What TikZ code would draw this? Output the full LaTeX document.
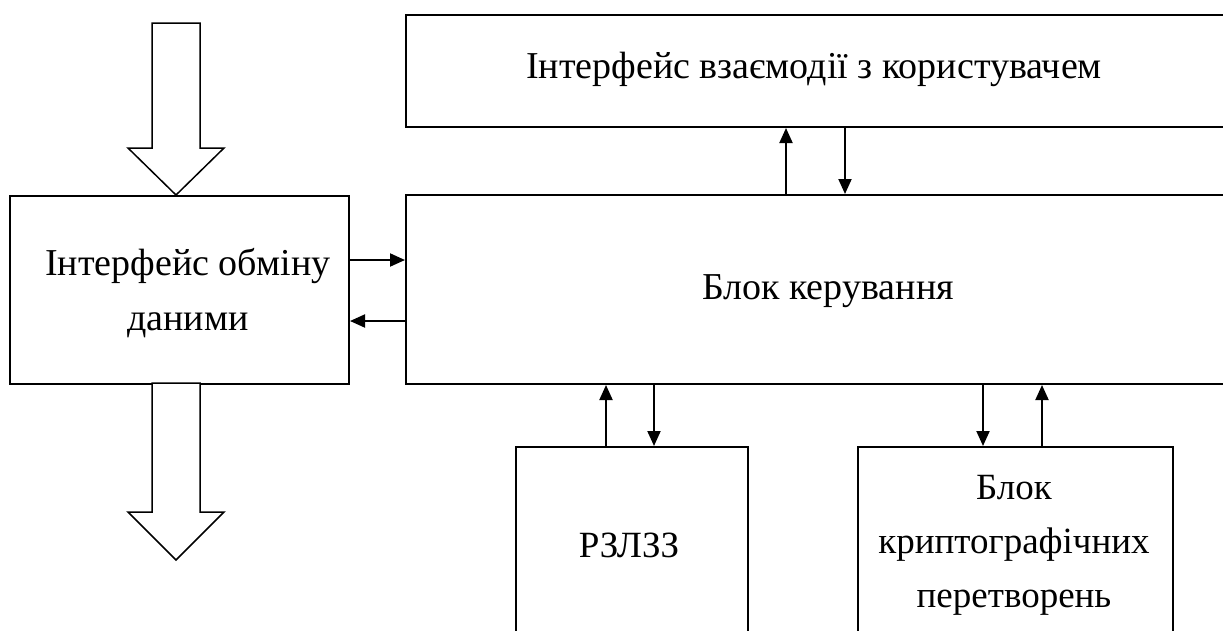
\documentclass[tikz,border=0pt]{standalone}
\usepackage{fontspec}
\setmainfont{Liberation Serif}
\usetikzlibrary{arrows.meta}
\begin{document}
\begin{tikzpicture}[x=1pt,y=-1pt,
  blk/.style={draw,line width=2pt,rectangle,anchor=north west,inner sep=0pt},
  lbl/.style={align=center,font=\fontsize{38}{55}\selectfont,inner sep=0pt},
  lblsmall/.style={align=center,font=\fontsize{37}{54}\selectfont,inner sep=0pt},
  sig/.style={line width=2pt,-{Triangle[length=15pt,width=13pt]}},
  bigarrow/.style={draw,line width=1.5pt,fill=white,line join=miter}]
\useasboundingbox (0,0) rectangle (1223,630);
\clip (0,0) rectangle (1223,630);
% boxes
\node[blk,minimum width=840pt,minimum height=112pt] (ui) at (405,14) {};
\node[blk,minimum width=840pt,minimum height=189pt] (ctrl) at (405,194) {};
\node[blk,minimum width=339pt,minimum height=188pt] (iface) at (9,195) {};
\node[blk,minimum width=232pt,minimum height=220pt] (rz) at (515,446) {};
\node[blk,minimum width=315pt,minimum height=220pt] (crypto) at (857,446) {};
% labels
\node[lbl] (uiText) at (814,69) {Інтерфейс взаємодії з користувачем};
\node[lbl] (ctrlText) at (828,291) {Блок керування};
\node[lbl] (ifaceText) at (188,293) {Інтерфейс обміну\\даними};
\node[lblsmall] (rzText) at (629,545) {РЗЛЗЗ};
\node[lblsmall] (cryptoText) at (1014,545) {Блок\\криптографічних\\перетворень};
% data flow in and out of the exchange interface
\draw[bigarrow] (152,23) -- (200,23) -- (200,148) -- (224,148) -- (176,195)
  -- (128,148) -- (152,148) -- cycle;
\draw[bigarrow] (152,383) -- (200,383) -- (200,512) -- (224,512) -- (176,560)
  -- (128,512) -- (152,512) -- cycle;
% control signals
\draw[sig] (iface.east |- 0,260) -- (ctrl.west |- 0,260);
\draw[sig] (ctrl.west |- 0,321) -- (iface.east |- 0,321);
\draw[sig] (ctrl.north -| 786,0) -- (ui.south -| 786,0);
\draw[sig] (ui.south -| 845,0) -- (ctrl.north -| 845,0);
\draw[sig] (rz.north -| 606,0) -- (ctrl.south -| 606,0);
\draw[sig] (ctrl.south -| 654,0) -- (rz.north -| 654,0);
\draw[sig] (ctrl.south -| 983,0) -- (crypto.north -| 983,0);
\draw[sig] (crypto.north -| 1042,0) -- (ctrl.south -| 1042,0);
\end{tikzpicture}
\end{document}
